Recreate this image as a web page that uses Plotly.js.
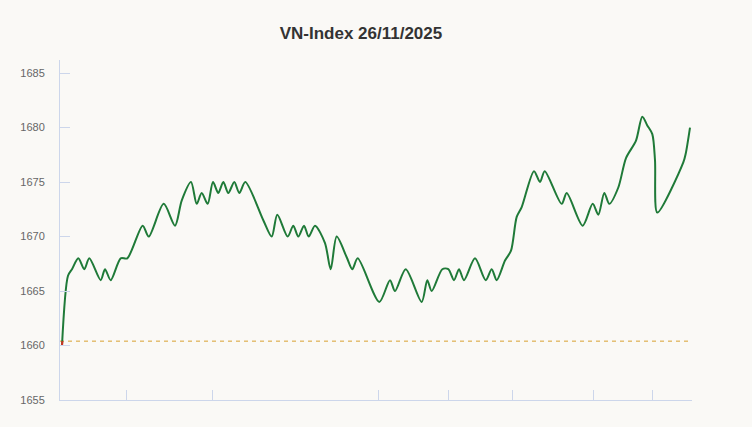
<!DOCTYPE html>
<html>
<head>
<meta charset="utf-8">
<script src="https://cdn.plot.ly/plotly-3.0.1.min.js"></script>
<style>
  html, body { margin: 0; padding: 0; background: #faf9f6; }
  #chart { width: 752px; height: 427px; }
</style>
</head>
<body>
<div id="chart"></div>
<script>
// Time position (session progress units) and index values
const timePos = [2, 8, 12, 18.3, 24.3, 29.3, 40.7, 45, 50.7, 60.7, 67.3, 82.7, 88.7, 103.7, 115, 121.7, 131, 136.7, 141.7, 147.7, 153, 158.3, 163.3, 168.3, 174.3, 179.3, 185.3, 203.3, 211.7, 217.3, 227.7, 233.3, 238.3, 244, 248.7, 255, 265, 270.7, 276.7, 286.7, 292.3, 297.7, 319.3, 330, 335, 345.7, 361.7, 367.3, 371.7, 382.3, 388.3, 394, 399, 404, 415, 425.7, 431.7, 436.7, 445, 451, 456.7, 461.7, 474, 480, 484.7, 501.7, 506.7, 522.7, 532.7, 538.3, 544.3, 549.3, 558.3, 566, 576, 582.3, 587.3, 592.3, 595, 597.3, 623.3, 625.7, 630];
const indexVals = [1660, 1666.4, 1667, 1668, 1667, 1668, 1666, 1667, 1666, 1668, 1668, 1671, 1670, 1673, 1671, 1673.3, 1675, 1673, 1674, 1673, 1675, 1674, 1675, 1674, 1675, 1674, 1675, 1671.5, 1670, 1672, 1670, 1671, 1670, 1671, 1670, 1671, 1669.4, 1667, 1670, 1668.1, 1667, 1668, 1664, 1666, 1665, 1667, 1664, 1666, 1665, 1667, 1667, 1666, 1667, 1666, 1668, 1666, 1667, 1666, 1667.8, 1668.7, 1671.8, 1672.7, 1676, 1675, 1676, 1673, 1674, 1671, 1673, 1672, 1674, 1673, 1674.5, 1677.2, 1678.8, 1681, 1680.2, 1679.4, 1677, 1672.2, 1676.8, 1677.6, 1680];
const refPrice = 1660.4;
const xTickPos = [66, 152, 318, 388, 452, 533, 592];
const yTickVals = [1655, 1660, 1665, 1670, 1675, 1680, 1685];
const xRange = [0, 632];
const yRange = [1655, 1686.2];

const traces = [
  {
    x: xRange, y: [refPrice, refPrice], type: 'scatter', mode: 'lines',
    line: { color: '#d9a030', width: 1, dash: '4px,4px' }, hoverinfo: 'skip'
  },
  {
    x: timePos, y: indexVals, type: 'scatter', mode: 'lines',
    line: { color: '#1f7a38', width: 2, shape: 'spline', smoothing: 0.8 }
  },
  {
    x: [timePos[0], timePos[0] + 0.4], y: [indexVals[0], refPrice], type: 'scatter', mode: 'lines',
    line: { color: '#d03020', width: 2 }
  }
];

const axisColor = '#ccd6eb';
const layout = {
  width: 752, height: 427,
  paper_bgcolor: '#faf9f6', plot_bgcolor: '#faf9f6',
  showlegend: false,
  margin: { l: 60, r: 60, t: 60, b: 27 },
  title: {
    text: 'VN-Index 26/11/2025',
    font: { family: 'Liberation Sans, Arial, sans-serif', size: 17, color: '#333333', weight: 'bold' },
    xref: 'container', yref: 'container', x: 0.48, xanchor: 'center', y: 0.923, yanchor: 'middle'
  },
  xaxis: {
    range: xRange, showgrid: false, zeroline: false,
    showline: true, linecolor: axisColor, linewidth: 1,
    ticks: 'inside', ticklen: 10, tickcolor: axisColor, tickwidth: 1,
    tickmode: 'array', tickvals: xTickPos, showticklabels: false
  },
  yaxis: {
    range: yRange, showgrid: false, zeroline: false,
    showline: true, linecolor: axisColor, linewidth: 1,
    ticks: 'inside', ticklen: 10, tickcolor: axisColor, tickwidth: 1,
    tickmode: 'array', tickvals: yTickVals,
    tickfont: { family: 'Liberation Sans, Arial, sans-serif', size: 11, color: '#666666' },
    ticklabelstandoff: 12
  }
};

Plotly.newPlot('chart', traces, layout, { displayModeBar: false, staticPlot: true });
</script>
</body>
</html>
